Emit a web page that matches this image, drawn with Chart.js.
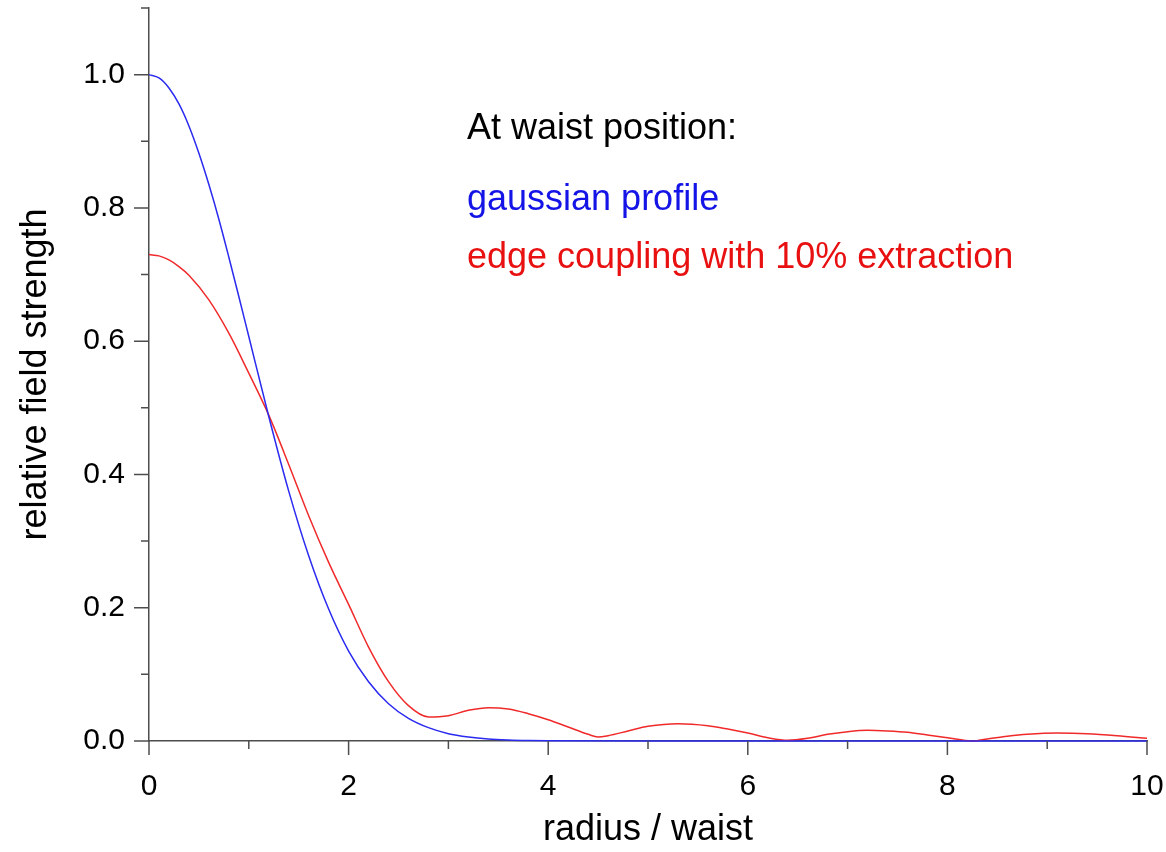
<!DOCTYPE html>
<html>
<head>
<meta charset="utf-8">
<script src="https://cdn.jsdelivr.net/npm/chart.js@4.4.1/dist/chart.umd.min.js"></script>
<style>
  html, body { margin: 0; padding: 0; background: #fff; }
  #wrap { width: 1166px; height: 852px; }
</style>
</head>
<body>
<div id="wrap"><canvas id="fieldChart" width="1166" height="852"></canvas></div>
<script>
// radius / waist samples
const gaussX = [0, 0.1, 0.2, 0.3, 0.4, 0.5, 0.6, 0.7, 0.8, 0.9, 1.0, 1.2, 1.4, 1.6, 1.8, 2.0, 2.2, 2.4, 2.6, 2.8, 3.0, 3.2, 3.4, 3.6, 3.8, 4.0, 5, 6, 7, 8, 9, 10];
const gaussY = [1.000, 0.995, 0.980, 0.956, 0.923, 0.882, 0.835, 0.783, 0.726, 0.667, 0.607, 0.487, 0.375, 0.278, 0.198, 0.135, 0.089, 0.056, 0.034, 0.020, 0.011, 0.006, 0.003, 0.0015, 0.0007, 0.0003, 0, 0, 0, 0, 0, 0];

const edgeX = [0, 0.1, 0.2, 0.3, 0.4, 0.6, 0.8, 1.0, 1.2, 1.4, 1.6, 1.8, 2.0, 2.2, 2.4, 2.6, 2.8, 3.0, 3.2, 3.4, 3.6, 3.8, 4.0, 4.2, 4.4, 4.5, 4.6, 4.8, 5.0, 5.3, 5.6, 5.8, 6.0, 6.2, 6.4, 6.6, 6.8, 7.0, 7.2, 7.4, 7.6, 7.8, 8.0, 8.25, 8.4, 8.6, 8.8, 9.1, 9.4, 9.7, 10];
const edgeY = [0.730, 0.728, 0.722, 0.712, 0.699, 0.662, 0.612, 0.552, 0.489, 0.415, 0.338, 0.268, 0.205, 0.141, 0.089, 0.053, 0.036, 0.038, 0.046, 0.050, 0.048, 0.041, 0.032, 0.021, 0.010, 0.006, 0.008, 0.015, 0.022, 0.026, 0.023, 0.018, 0.012, 0.005, 0.001, 0.004, 0.010, 0.014, 0.016, 0.015, 0.013, 0.009, 0.005, 0.000, 0.003, 0.007, 0.010, 0.012, 0.011, 0.008, 0.004];

// tick marks
const xMajor = [0, 2, 4, 6, 8, 10];
const xMinor = [1, 3, 5, 7, 9];
const yMajor = [0, 0.2, 0.4, 0.6, 0.8, 1.0];
const yMinor = [0.1, 0.3, 0.5, 0.7, 0.9, 1.1];

const noteLines = ["At waist position:", "gaussian profile", "edge coupling with 10% extraction"];
const noteColors = ["#000000", "#1414e6", "#e81010"];

const axisColor = "#4d4d4d";
const fontFamily = "'Liberation Sans', Arial, sans-serif";

function toPoints(xs, ys) {
  return xs.map((x, i) => ({ x: x, y: ys[i] }));
}

// draws major / minor tick marks and the text block
const decorations = {
  id: "decorations",
  afterDraw(chart) {
    const ctx = chart.ctx;
    const xs = chart.scales.x;
    const ys = chart.scales.y;
    const left = chart.chartArea.left;
    const bottom = chart.chartArea.bottom;

    ctx.save();
    ctx.strokeStyle = axisColor;
    ctx.lineWidth = 1.5;
    ctx.beginPath();
    yMajor.forEach(v => {
      const p = ys.getPixelForValue(v);
      ctx.moveTo(left - 15, p); ctx.lineTo(left, p);
    });
    yMinor.forEach(v => {
      const p = ys.getPixelForValue(v);
      ctx.moveTo(left - 8, p); ctx.lineTo(left, p);
    });
    xMajor.forEach(v => {
      const p = xs.getPixelForValue(v);
      ctx.moveTo(p, bottom); ctx.lineTo(p, bottom + 14);
    });
    xMinor.forEach(v => {
      const p = xs.getPixelForValue(v);
      ctx.moveTo(p, bottom); ctx.lineTo(p, bottom + 8);
    });
    ctx.stroke();

    ctx.font = "36px " + fontFamily;
    ctx.textAlign = "left";
    ctx.textBaseline = "alphabetic";
    const tops = [139, 210, 268];
    noteLines.forEach((t, i) => {
      ctx.fillStyle = noteColors[i];
      ctx.fillText(t, 467, tops[i]);
    });
    ctx.restore();
  }
};

const ctx = document.getElementById("fieldChart").getContext("2d");

new Chart(ctx, {
  type: "line",
  data: {
    datasets: [
      {
        label: "gaussian profile",
        data: toPoints(gaussX, gaussY),
        borderColor: "#2a2af0",
        borderWidth: 1.5,
        pointRadius: 0,
        cubicInterpolationMode: "monotone",
        clip: false,
      },
      {
        label: "edge coupling with 10% extraction",
        data: toPoints(edgeX, edgeY),
        borderColor: "#f02a2a",
        borderWidth: 1.5,
        pointRadius: 0,
        cubicInterpolationMode: "monotone",
        clip: false,
      },
    ],
  },
  options: {
    responsive: false,
    animation: false,
    devicePixelRatio: 1,
    layout: { padding: { top: 8, right: 19, left: 0, bottom: 0 } },
    plugins: {
      legend: { display: false },
      tooltip: { enabled: false },
    },
    scales: {
      x: {
        type: "linear",
        min: 0,
        max: 10,
        afterFit(scale) {
          scale.height = 111;
          scale.paddingLeft = 0;
          scale.paddingRight = 0;
        },
        ticks: {
          stepSize: 1,
          padding: 28,
          color: "#000",
          font: { family: fontFamily, size: 30 },
          maxRotation: 0,
          autoSkip: false,
          callback: v => (xMajor.includes(v) ? String(v) : ""),
        },
        grid: { display: true, drawOnChartArea: false, drawTicks: false },
        border: { display: true, color: axisColor, width: 1.5 },
        title: {
          display: true,
          text: "radius / waist",
          color: "#000",
          font: { family: fontFamily, size: 36 },
          padding: { top: 0, bottom: 0 },
        },
      },
      y: {
        type: "linear",
        min: 0,
        max: 1.1,
        afterFit(scale) {
          scale.width = 149;
          scale.paddingTop = 0;
          scale.paddingBottom = 0;
        },
        ticks: {
          stepSize: 0.1,
          padding: 24,
          color: "#000",
          font: { family: fontFamily, size: 30 },
          autoSkip: false,
          callback: v => {
            const r = Math.round(v * 10) / 10;
            return yMajor.includes(r) ? r.toFixed(1) : "";
          },
        },
        grid: { display: true, drawOnChartArea: false, drawTicks: false },
        border: { display: true, color: axisColor, width: 1.5 },
        title: {
          display: true,
          text: "relative field strength",
          color: "#000",
          font: { family: fontFamily, size: 36 },
          padding: { top: 14, bottom: 0 },
        },
      },
    },
  },
  plugins: [decorations],
});
</script>
</body>
</html>
